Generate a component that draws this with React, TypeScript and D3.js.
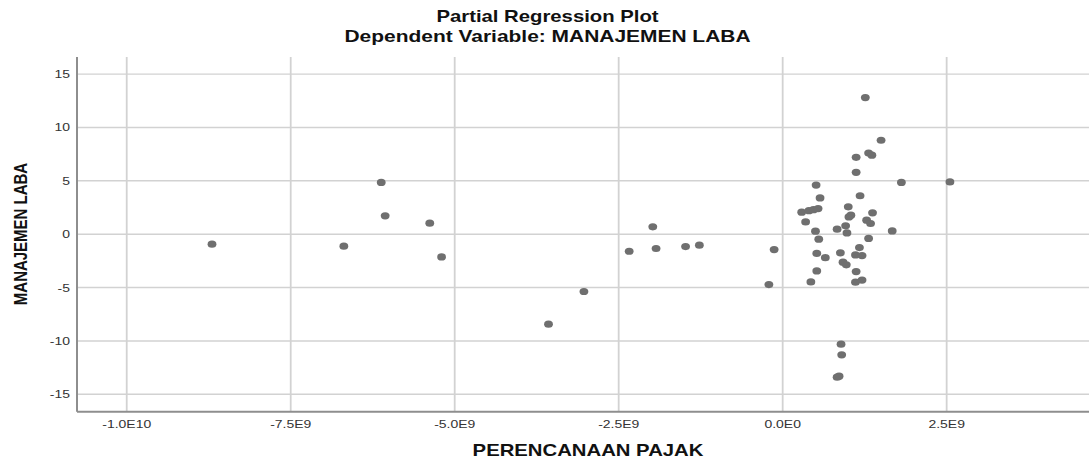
import * as d3 from "d3";

const WIDTH = 1089;
const HEIGHT = 458;
const PLOT = { left: 77, top: 57, right: 1089, bottom: 411.7 };

// the source image is stretched horizontally, so text is too
const X_STRETCH = 1.27;
const FONT = "'Liberation Sans', Arial, sans-serif";

const title = "Partial Regression Plot";
const subtitle = "Dependent Variable: MANAJEMEN LABA";
const xLabel = "PERENCANAAN PAJAK";
const yLabel = "MANAJEMEN LABA";

const xTicks = [-1e10, -7.5e9, -5e9, -2.5e9, 0, 2.5e9];
const xTickLabels = ["-1.0E10", "-7.5E9", "-5.0E9", "-2.5E9", "0.0E0", "2.5E9"];
const yTicks = [-15, -10, -5, 0, 5, 10, 15];

// PERENCANAAN PAJAK residuals (x) and MANAJEMEN LABA residuals (y)
const xValues = [
  -8.7e9, -6.69e9, -6.12e9, -6.06e9, -5.38e9, -5.2e9, -3.57e9, -3.03e9,
  -2.34e9, -1.98e9, -1.93e9, -1.48e9, -1.27e9, -0.21e9, -0.13e9,
  1.26e9, 1.5e9, 1.31e9, 1.36e9, 1.12e9, 1.12e9, 1.81e9, 2.55e9,
  0.51e9, 0.57e9, 1.18e9, 0.29e9, 0.4e9, 0.47e9, 0.54e9, 1.0e9,
  1.01e9, 1.04e9, 1.37e9, 1.28e9, 1.34e9, 0.35e9, 0.5e9, 0.83e9,
  0.96e9, 0.98e9, 1.67e9, 0.55e9, 1.31e9, 1.17e9, 0.52e9, 0.65e9,
  0.88e9, 1.11e9, 1.21e9, 0.92e9, 0.97e9, 0.52e9, 1.12e9, 0.43e9,
  1.11e9, 1.21e9, 0.89e9, 0.9e9, 0.83e9, 0.86e9,
];
const yValues = [
  -0.94, -1.12, 4.85, 1.72, 1.03, -2.13, -8.43, -5.37,
  -1.6, 0.69, -1.34, -1.16, -1.03, -4.72, -1.44,
  12.8, 8.8, 7.6, 7.4, 7.2, 5.8, 4.85, 4.9,
  4.6, 3.4, 3.6, 2.06, 2.2, 2.3, 2.4, 2.56,
  1.62, 1.78, 2.0, 1.31, 1.0, 1.15, 0.28, 0.47,
  0.78, 0.12, 0.31, -0.47, -0.4, -1.25, -1.8, -2.2,
  -1.75, -1.94, -2.0, -2.62, -2.87, -3.44, -3.5, -4.47,
  -4.5, -4.3, -10.3, -11.3, -13.4, -13.3,
];

export default function App() {
  const xScale = d3
    .scaleLinear()
    .domain([-1.0758e10, 4.67e9])
    .range([PLOT.left, PLOT.right]);
  const yScale = d3
    .scaleLinear()
    .domain([-16.63, 16.6])
    .range([PLOT.bottom, PLOT.top]);

  const points = xValues.map((x, i) => ({ x, y: yValues[i] }));

  return (
    <svg
      width={WIDTH}
      height={HEIGHT}
      style={{ position: "absolute", left: 0, top: 0, background: "#fff" }}
      fontFamily={FONT}
    >
      {/* titles */}
      <text
        transform={`translate(547.5,22) scale(${X_STRETCH},1)`}
        textAnchor="middle"
        fontSize={16}
        fontWeight="bold"
        fill="#111"
      >
        {title}
      </text>
      <text
        transform={`translate(547.5,42) scale(${X_STRETCH},1)`}
        textAnchor="middle"
        fontSize={16.5}
        fontWeight="bold"
        fill="#111"
      >
        {subtitle}
      </text>

      {/* grid */}
      {yTicks.map((t) => (
        <line
          key={"gy" + t}
          x1={PLOT.left}
          x2={PLOT.right}
          y1={yScale(t)}
          y2={yScale(t)}
          stroke="#d2d2d2"
          strokeWidth={1.4}
        />
      ))}
      {xTicks.map((t) => (
        <line
          key={"gx" + t}
          x1={xScale(t)}
          x2={xScale(t)}
          y1={PLOT.top}
          y2={PLOT.bottom}
          stroke="#d2d2d2"
          strokeWidth={1.8}
        />
      ))}

      {/* axes */}
      <line
        x1={PLOT.left}
        x2={PLOT.left}
        y1={PLOT.top}
        y2={PLOT.bottom}
        stroke="#8e8e8e"
        strokeWidth={2}
      />
      <line
        x1={PLOT.left}
        x2={PLOT.right}
        y1={PLOT.bottom}
        y2={PLOT.bottom}
        stroke="#8e8e8e"
        strokeWidth={2}
      />

      {/* tick labels */}
      {yTicks.map((t) => (
        <text
          key={"ty" + t}
          transform={`translate(70,${yScale(t)}) scale(${X_STRETCH},1)`}
          dy="0.36em"
          textAnchor="end"
          fontSize={11}
          fill="#333"
        >
          {t}
        </text>
      ))}
      {xTicks.map((t, i) => (
        <text
          key={"tx" + t}
          transform={`translate(${xScale(t)},428) scale(${X_STRETCH},1)`}
          textAnchor="middle"
          fontSize={11}
          fill="#333"
        >
          {xTickLabels[i]}
        </text>
      ))}

      {/* axis titles */}
      <text
        transform={`translate(588,456) scale(${X_STRETCH},1)`}
        textAnchor="middle"
        fontSize={16}
        fontWeight="bold"
        fill="#111"
      >
        {xLabel}
      </text>
      <text
        transform={`translate(27,234) rotate(-90) scale(1,${X_STRETCH})`}
        textAnchor="middle"
        fontSize={15}
        fontWeight="bold"
        fill="#111"
      >
        {yLabel}
      </text>

      {/* points */}
      {points.map((p, i) => (
        <ellipse
          key={i}
          cx={xScale(p.x)}
          cy={yScale(p.y)}
          rx={4.4}
          ry={3.6}
          fill="#6f6f6f"
        />
      ))}
    </svg>
  );
}
